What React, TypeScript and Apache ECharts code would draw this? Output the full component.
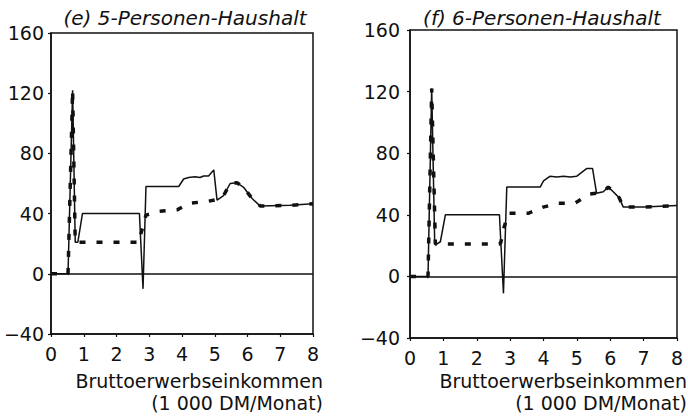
import React, { useEffect, useRef } from "react";
import * as echarts from "echarts";

const titles = ["(e) 5-Personen-Haushalt", "(f) 6-Personen-Haushalt"];
const xAxisName = "Bruttoerwerbseinkommen\n(1 000 DM/Monat)";
const yTicks = { min: -40, max: 160, interval: 40 };
const xTicks = { min: 0, max: 8, interval: 1 };

// (e) 5-Personen-Haushalt
const eSolid: [number, number][] = [
  [0, 0], [0.52, 0], [0.66, 122], [0.74, 21], [0.82, 21], [0.96, 40], [2.7, 40],
  [2.81, -10], [2.9, 58], [3.9, 58], [4.05, 63], [4.2, 64], [4.4, 64.5], [4.55, 64],
  [4.66, 65], [4.81, 65], [4.97, 69], [5.07, 49], [5.27, 52], [5.47, 60], [5.68, 60.5],
  [5.88, 57.5], [6.14, 50], [6.39, 45], [7.3, 45.5], [8, 46.5],
];
const eDashed: [number, number][] = [
  [0, 0], [0.52, 0], [0.66, 122], [0.74, 21], [2.7, 21], [2.75, 27], [2.9, 39],
  [3.3, 41.5], [3.85, 42.5], [4.25, 47], [4.76, 48], [5.09, 49.5], [5.27, 52],
  [5.47, 60], [5.68, 60.5], [5.88, 57.5], [6.14, 50], [6.39, 45], [7.3, 45.5], [8, 46.5],
];

// (f) 6-Personen-Haushalt
const fSolid: [number, number][] = [
  [0, 0], [0.54, 0], [0.65, 122], [0.74, 22], [0.8, 21], [0.91, 22.5], [1.06, 40],
  [2.68, 40], [2.8, -11], [2.9, 58], [3.9, 58], [4.0, 62], [4.19, 65], [4.4, 64.5],
  [4.6, 65], [4.8, 64.5], [4.99, 65], [5.29, 70], [5.47, 70], [5.59, 54], [5.79, 55],
  [5.94, 58], [6.09, 55], [6.27, 51], [6.39, 45], [7.0, 45], [8, 46],
];
const fDashed: [number, number][] = [
  [0, 0], [0.54, 0], [0.65, 122], [0.76, 21], [2.68, 21], [2.72, 22], [2.82, 32],
  [2.95, 41], [3.55, 41], [3.99, 45], [4.44, 47.5], [4.94, 47.5], [5.39, 53.5],
  [5.59, 54], [5.79, 55], [5.94, 58], [6.09, 55], [6.27, 51], [6.39, 45], [7.0, 45], [8, 46],
];

const INK = "#111";
const FONT = '"DejaVu Sans", "Liberation Sans", sans-serif';

export default function App() {
  const ref = useRef<HTMLDivElement>(null);

  useEffect(() => {
    if (!ref.current) return;
    const chart = echarts.init(ref.current, undefined, { renderer: "svg" });

    const grids = [
      { left: 51, top: 33, width: 262, height: 301 },
      { left: 410, top: 30, width: 267, height: 308 },
    ];

    const mkX = (i: number) => ({
      type: "value",
      gridIndex: i,
      ...xTicks,
      axisLine: { show: true, onZero: false, lineStyle: { color: INK, width: 1.5 } },
      axisTick: { show: true, length: 3, lineStyle: { color: INK, width: 1.2 } },
      axisLabel: { color: INK, fontSize: 19, fontFamily: FONT, margin: 10 },
      splitLine: { show: false },
    });
    const mkY = (i: number) => ({
      type: "value",
      gridIndex: i,
      ...yTicks,
      axisLine: { show: true, lineStyle: { color: INK, width: 1.5 } },
      axisTick: { show: true, length: 3, lineStyle: { color: INK, width: 1.2 } },
      axisLabel: {
        color: INK,
        fontSize: 19,
        fontFamily: FONT,
        margin: i === 0 ? 7 : 10,
        formatter: (v: number) => String(v).replace("-", "\u2212"),
      },
      splitLine: { show: false },
    });

    const solid = (i: number, data: [number, number][]) => ({
      type: "line",
      xAxisIndex: i,
      yAxisIndex: i,
      data,
      symbol: "none",
      z: 3,
      lineStyle: { color: INK, width: 1.5 },
      markLine: {
        silent: true,
        symbol: "none",
        label: { show: false },
        lineStyle: { color: INK, width: 1.5, type: "solid" },
        data: [{ yAxis: 0 }],
      },
    });
    const dashed = (i: number, data: [number, number][]) => ({
      type: "line",
      xAxisIndex: i,
      yAxisIndex: i,
      data,
      symbol: "none",
      z: 4,
      lineStyle: { color: INK, width: 3.5, type: [6, 11], cap: "butt" },
    });

    const nameText = (x: number, y: number) => ({
      type: "text",
      x,
      y,
      style: {
        text: xAxisName,
        fill: INK,
        font: `19px ${FONT}`,
        lineHeight: 22,
        textAlign: "right",
        textVerticalAlign: "top",
      },
    });

    const titleStyle = { color: INK, fontStyle: "italic", fontWeight: "normal", fontSize: 20, fontFamily: FONT };

    chart.setOption({
      animation: false,
      backgroundColor: "#fff",
      title: [
        { text: titles[0], left: 180, top: 3, textAlign: "center", textStyle: titleStyle },
        { text: titles[1], left: 537, top: 3, textAlign: "center", textStyle: titleStyle },
      ],
      grid: grids.map((g) => ({ ...g, show: true, borderColor: INK, borderWidth: 1.5, backgroundColor: "transparent" })),
      xAxis: [mkX(0), mkX(1)],
      yAxis: [mkY(0), mkY(1)],
      series: [solid(0, eSolid), dashed(0, eDashed), solid(1, fSolid), dashed(1, fDashed)],
      graphic: [nameText(323, 370), nameText(687, 370)],
    });

    return () => chart.dispose();
  }, []);

  return (
    <div
      ref={ref}
      style={{ position: "fixed", left: 0, top: 0, width: 688, height: 420, background: "#fff" }}
    />
  );
}
